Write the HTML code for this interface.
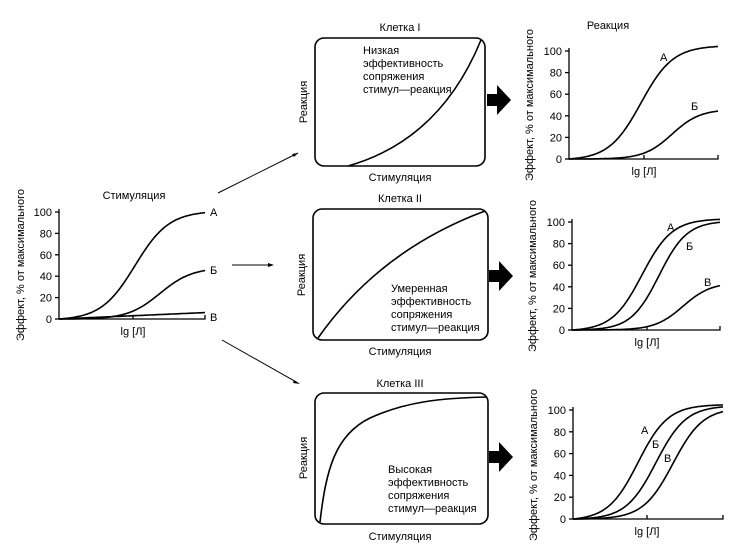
<!DOCTYPE html>
<html><head><meta charset="utf-8"><style>
body{margin:0;background:#fff;}
svg{display:block;font-family:"Liberation Sans",sans-serif;}
</style></head><body>
<svg id="s" width="732" height="552" viewBox="0 0 732 552" xmlns="http://www.w3.org/2000/svg">
<g fill="none" stroke="#000" stroke-width="1.6" id="g">
<rect x="315" y="38" width="170" height="128" rx="9"/>
<rect x="313" y="209" width="175" height="131" rx="9"/>
<rect x="315" y="393" width="173" height="131" rx="9"/>
<path d="M348,166 Q440,140 481,40"/>
<path d="M318,338 Q380,250 485,211"/>
<path d="M320,522 C326,470 335,435 370,418 C405,402 440,398 487,397"/>
<path d="M218,193 L298,153" stroke-width="1"/>
<path d="M232,265 L272,265" stroke-width="1"/>
<path d="M222,340 L298,383" stroke-width="1"/>
</g>
<g fill="#000">
<path d="M298,153 l-6,1 l2,3z"/>
<path d="M274,265 l-6,-2 v4z"/>
<path d="M300,384 l-6,-4 l-1,3z"/>
<path d="M487,94 h10 v-9 l14,15 l-14,15 v-9 h-10z"/>
<path d="M489,270 h10 v-9 l14,15 l-14,15 v-9 h-10z"/>
<path d="M489,451 h10 v-9 l14,15 l-14,15 v-9 h-10z"/>
</g>
<g font-size="11" text-anchor="middle">
<text x="400" y="31">Клетка I</text>
<text x="400" y="202">Клетка II</text>
<text x="400" y="387">Клетка III</text>
<text x="400" y="181">Стимуляция</text>
<text x="400" y="355">Стимуляция</text>
<text x="400" y="540">Стимуляция</text>
<text transform="translate(307,102) rotate(-90)">Реакция</text>
<text transform="translate(305,275) rotate(-90)">Реакция</text>
<text transform="translate(307,458) rotate(-90)">Реакция</text>
<text x="134" y="199">Стимуляция</text>
<text x="608" y="29">Реакция</text>
</g>
<g font-size="11">
<text x="363" y="54">Низкая</text><text x="363" y="67">эффективность</text><text x="363" y="80">сопряжения</text><text x="363" y="93">стимул—реакция</text>
<text x="391" y="292">Умеренная</text><text x="391" y="305">эффективность</text><text x="391" y="318">сопряжения</text><text x="391" y="331">стимул—реакция</text>
<text x="388" y="473">Высокая</text><text x="388" y="486">эффективность</text><text x="388" y="499">сопряжения</text><text x="388" y="512">стимул—реакция</text>
</g>
</svg>
<script>
var s=document.getElementById('s'),NS='http://www.w3.org/2000/svg';
function el(t,a,txt){var e=document.createElementNS(NS,t);for(var k in a)e.setAttribute(k,a[k]);if(txt)e.textContent=txt;s.appendChild(e);return e;}
function chart(x0,x1,y0,y100,tick,curves,labels,ylx){
 var k=(y0-y100)/100;
 el('path',{d:'M'+x0+','+(y100-3)+'V'+y0+'H'+x1+'v-4M'+tick+','+y0+'v-4',fill:'none',stroke:'#000','stroke-width':1.3});
 for(var v=0;v<=100;v+=20){var y=y0-v*k;el('path',{d:'M'+(x0-4)+','+y+'h4',stroke:'#000','stroke-width':1.3});
  el('text',{x:x0-7,y:y+4,'font-size':11,'text-anchor':'end','font-family':'Liberation Sans,sans-serif'},String(v));}
 el('text',{x:tick,y:y0+16,'font-size':11,'text-anchor':'middle','font-family':'Liberation Sans,sans-serif'},'lg [Л]');
 el('text',{transform:'translate('+ylx+','+(y0-54)+') rotate(-90)','font-size':11,'text-anchor':'middle','font-family':'Liberation Sans,sans-serif'},'Эффект, % от максимального');
 curves.forEach(function(c){var d='';for(var x=x0;x<=x1;x+=1){var v=c.lin?c.m*(x-x0)/(x1-x0):c.m/(1+Math.exp(-(x-c.mid)/c.s));var b=c.lin?0:c.m/(1+Math.exp(-(x0-c.mid)/c.s));v=c.lin?v:(v-b)*c.m/(c.m-b);d+=(d?'L':'M')+x+','+(y0-v*k).toFixed(1);}
  el('path',{d:d,fill:'none',stroke:'#000','stroke-width':1.6});});
 labels.forEach(function(l){el('text',{x:l[0],y:l[1],'font-size':11,'font-family':'Liberation Sans,sans-serif'},l[2]);});
}
chart(59,205,319,212,133,[{m:101,mid:135,s:17},{m:48,mid:160,s:16},{m:6,lin:1}],[[210,216,'А'],[210,274,'Б'],[210,321,'В']],24);
chart(569,718,159,51,644,[{m:105,mid:641,s:16},{m:46,mid:672,s:14}],[[660,61,'А'],[691,110,'Б']],533);
chart(572,720,330,222,647,[{m:103,mid:642,s:15},{m:101,mid:659,s:14},{m:44,mid:683,s:14}],[[667,231,'А'],[686,250,'Б'],[704,286,'В']],536);
chart(573,723,519,410,647,[{m:105,mid:638,s:15},{m:104,mid:656,s:15},{m:102,mid:673,s:15}],[[641,434,'А'],[652,448,'Б'],[664,462,'В']],537);
</script>
</body></html>
